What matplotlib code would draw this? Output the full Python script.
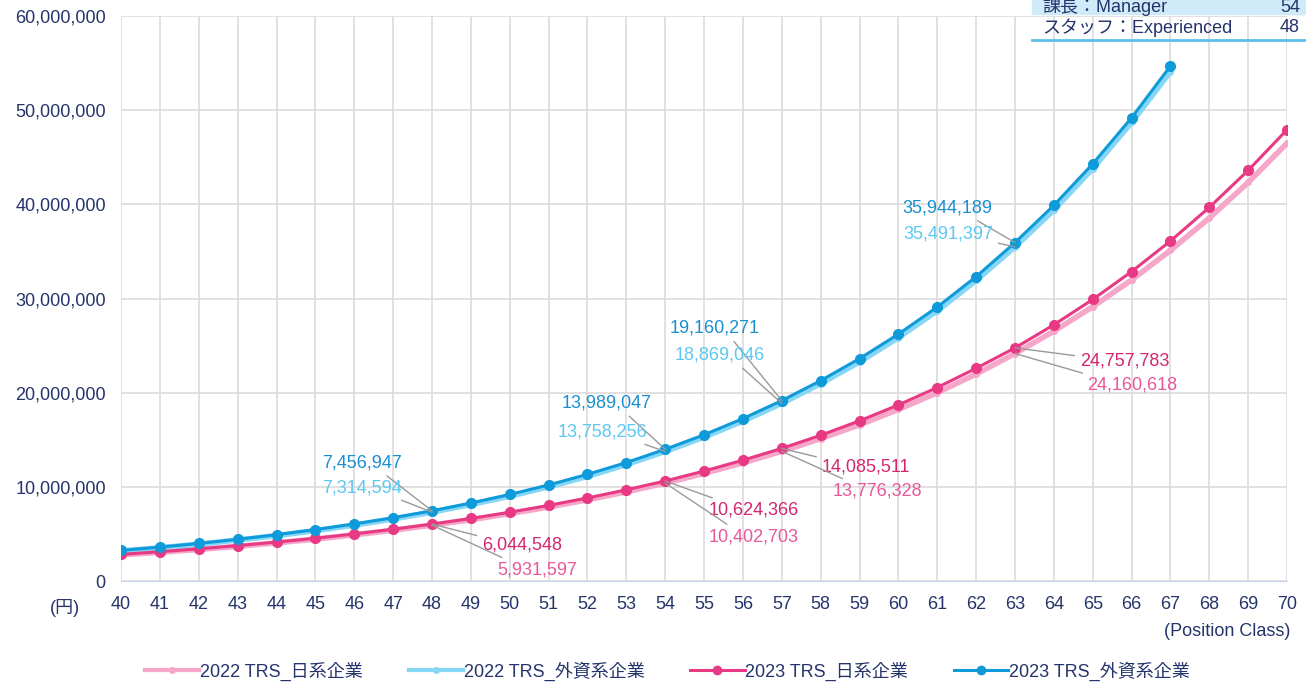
import matplotlib.pyplot as plt
from matplotlib.ticker import FuncFormatter, MultipleLocator
from matplotlib.lines import Line2D

plt.rcParams['font.family'] = ['Liberation Sans', 'Noto Sans CJK JP', 'DejaVu Sans']

classes_jp = list(range(40, 71))
classes_fc = list(range(40, 68))

jp_2022 = [2770000, 3050000, 3350000, 3680000, 4050000, 4450000, 4900000, 5390000,
           5931597, 6510000, 7150000, 7850000, 8620000, 9470000, 10402703, 11430000,
           12550000, 13776328, 15120000, 16590000, 18220000, 20000000, 21980000,
           24160618, 26530000, 29130000, 31980000, 35110000, 38550000, 42330000, 46500000]
jp_2023 = [2830000, 3110000, 3420000, 3760000, 4130000, 4540000, 5000000, 5500000,
           6044548, 6640000, 7300000, 8030000, 8820000, 9690000, 10624366, 11680000,
           12830000, 14085511, 15480000, 17010000, 18700000, 20550000, 22590000,
           24757783, 27210000, 29900000, 32860000, 36110000, 39680000, 43610000, 47930000]
fc_2022 = [3190000, 3530000, 3920000, 4350000, 4820000, 5350000, 5940000, 6590000,
           7314594, 8120000, 9010000, 10000000, 11110000, 12370000, 13758256, 15290000,
           16980000, 18869046, 20960000, 23270000, 25850000, 28700000, 31920000,
           35491397, 39400000, 43800000, 48700000, 54100000]
fc_2023 = [3250000, 3600000, 3990000, 4430000, 4920000, 5460000, 6060000, 6720000,
           7456947, 8280000, 9190000, 10200000, 11330000, 12580000, 13989047, 15530000,
           17250000, 19160271, 21280000, 23620000, 26220000, 29100000, 32320000,
           35944189, 39900000, 44300000, 49200000, 54700000]

series_names = ['2022 TRS_日系企業', '2022 TRS_外資系企業', '2023 TRS_日系企業', '2023 TRS_外資系企業']

c_jp22 = '#f5a6c9'
c_fc22 = '#86d6f6'
c_jp23 = '#e83a84'
c_fc23 = '#0f9ad9'
navy = '#25346b'
fs = 13

fig = plt.figure(figsize=(13.06, 6.85), dpi=100, facecolor='white')
ax = fig.add_axes([0.0927, 0.1518, 0.8928, 0.8248])

ax.plot(classes_jp, jp_2022, color=c_jp22, lw=4, marker='o', ms=4, zorder=3)
ax.plot(classes_fc, fc_2022, color=c_fc22, lw=4, marker='o', ms=4, zorder=3)
ax.plot(classes_jp, jp_2023, color=c_jp23, lw=2.2, marker='o', ms=7, zorder=4)
ax.plot(classes_fc, fc_2023, color=c_fc23, lw=2.2, marker='o', ms=7, zorder=4)

ax.set_xlim(40, 70)
ax.set_ylim(0, 60000000)
ax.xaxis.set_major_locator(MultipleLocator(1))
ax.yaxis.set_major_locator(MultipleLocator(10000000))
ax.yaxis.set_major_formatter(FuncFormatter(lambda v, p: f'{int(v):,}'))
ax.grid(True, color='#dcdcdc', lw=1.2)
ax.set_axisbelow(True)
for s in ['top', 'right', 'left']:
    ax.spines[s].set_visible(False)
ax.spines['bottom'].set_color('#c5d9f5')
ax.tick_params(length=0, labelsize=fs, labelcolor=navy)
ax.tick_params(axis='y', pad=11)
ax.tick_params(axis='x', pad=11)

fig.text(65 / 1306, 1 - 608 / 685, '(円)', fontsize=fs, color=navy, ha='center', va='center')
fig.text(1290 / 1306, 1 - 632 / 685, '(Position Class)', fontsize=fs, color=navy,
         ha='right', va='center')

# data labels with leader lines
labels = [
    (fc_2023, 48, 47.23, 12530000, 'right', '#1a8fd0'),
    (fc_2022, 48, 47.23, 9880000, 'right', '#5cc8f2'),
    (jp_2023, 48, 49.29, 3820000, 'left', '#d3266f'),
    (jp_2022, 48, 49.67, 1170000, 'left', '#e8579a'),
    (fc_2023, 54, 53.66, 18900000, 'right', '#1a8fd0'),
    (fc_2022, 54, 53.53, 15800000, 'right', '#5cc8f2'),
    (jp_2023, 54, 55.13, 7540000, 'left', '#d3266f'),
    (jp_2022, 54, 55.13, 4670000, 'left', '#e8579a'),
    (fc_2023, 57, 56.44, 26870000, 'right', '#1a8fd0'),
    (fc_2022, 57, 56.57, 24000000, 'right', '#5cc8f2'),
    (jp_2023, 57, 58.03, 12100000, 'left', '#d3266f'),
    (jp_2022, 57, 58.32, 9560000, 'left', '#e8579a'),
    (fc_2023, 63, 62.43, 39600000, 'right', '#1a8fd0'),
    (fc_2022, 63, 62.43, 36850000, 'right', '#5cc8f2'),
    (jp_2023, 63, 64.67, 23360000, 'left', '#d3266f'),
    (jp_2022, 63, 64.85, 20800000, 'left', '#e8579a'),
]
for vals, cls, tx, ty, ha, col in labels:
    v = vals[cls - 40]
    angA = 0 if ha == 'right' else 180
    ax.annotate(f'{v:,}', xy=(cls, v), xytext=(tx, ty), ha=ha, va='center',
                fontsize=fs, color=col, zorder=6,
                arrowprops=dict(arrowstyle='-', color='#9a9a9a', lw=1,
                                shrinkA=2, shrinkB=0,
                                connectionstyle=f'arc,angleA={angA},armA=8,angleB=0,armB=0,rad=0'))

# legend
handles = [
    Line2D([], [], color=c_jp22, lw=3, marker='o', ms=4),
    Line2D([], [], color=c_fc22, lw=3, marker='o', ms=4),
    Line2D([], [], color=c_jp23, lw=2.2, marker='o', ms=6),
    Line2D([], [], color=c_fc23, lw=2.2, marker='o', ms=6),
]
leg = fig.legend(handles, series_names, loc='center', bbox_to_anchor=(0.511, 1 - 671 / 685),
                 ncol=4, frameon=False, fontsize=fs, handlelength=3.0, handletextpad=0.05,
                 columnspacing=2.55)
for t in leg.get_texts():
    t.set_color(navy)

# partial table at top right
fig.patches.append(plt.Rectangle((1032 / 1306, 1 - 14 / 685), 274 / 1306, 14 / 685,
                                 transform=fig.transFigure, color='#cfeaf8', zorder=5))
fig.text(1042 / 1306, 1 - 7 / 685, '課長：Manager', fontsize=fs, color=navy, va='center', zorder=7)
fig.text(1300 / 1306, 1 - 7 / 685, '54', fontsize=fs, color=navy, va='center', ha='right', zorder=7)
fig.text(1042 / 1306, 1 - 28 / 685, 'スタッフ：Experienced', fontsize=fs, color=navy, va='center', zorder=7)
fig.text(1300 / 1306, 1 - 28 / 685, '48', fontsize=fs, color=navy, va='center', ha='right', zorder=7)
fig.lines.append(Line2D([1032 / 1306, 1], [1 - 40 / 685, 1 - 40 / 685], transform=fig.transFigure,
                        color='#5cc0ea', lw=2, zorder=7))

fig.savefig('out.png', dpi=100, facecolor='white')
